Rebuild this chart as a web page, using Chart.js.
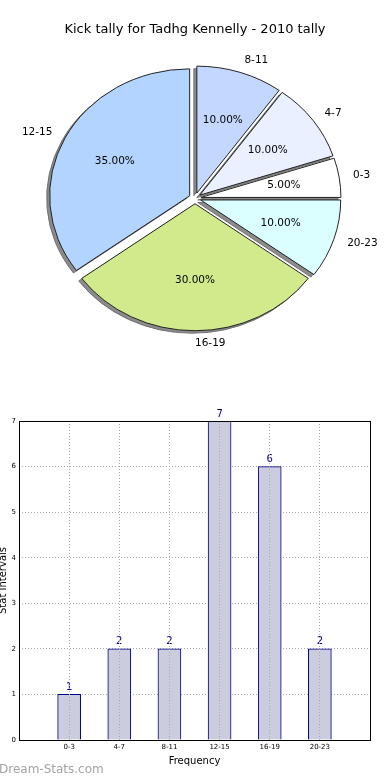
<!DOCTYPE html>
<html>
<head>
<meta charset="utf-8">
<script src="https://cdn.jsdelivr.net/npm/chart.js@4.4.1/dist/chart.umd.min.js"></script>
<style>
    body { margin: 0; background: #fff; width: 390px; height: 780px; overflow: hidden; position: relative; font-family: 'DejaVu Sans', sans-serif; }
    #pie { position: absolute; left: 0; top: 0; }
    #bar { position: absolute; left: 0; top: 395px; }
    #mark { position: absolute; left: -1px; top: 762px; font-size: 12px; color: #a3a3a3; }
</style>
</head>
<body>
<canvas id="pie" width="390" height="370"></canvas>
<canvas id="bar" width="390" height="385"></canvas>
<div id="mark">Dream-Stats.com</div>
<script>
// data
const categories = ['0-3', '4-7', '8-11', '12-15', '16-19', '20-23'];
const counts = [1, 2, 2, 7, 6, 2];
const sliceColors = ['#ffffff', '#eaf0ff', '#c4d8ff', '#b3d4ff', '#d0ea8c', '#dbffff'];
const yTicks = [0, 1, 2, 3, 4, 5, 6, 7];

Chart.defaults.font.family = "'DejaVu Sans', sans-serif";
Chart.defaults.color = '#000';

// pie goes clockwise in chart.js, matplotlib went counter-clockwise from 3 o'clock
const pieLabels = categories.slice().reverse();
const pieValues = counts.slice().reverse();
const pieColors = sliceColors.slice().reverse();
const total = counts.reduce((a, b) => a + b, 0);

const explode = 6;      // px
const squash = 0.907;   // axes were not square, so the pie is an ellipse

const pieDraw = {
    id: 'pieDraw',
    beforeDatasetsDraw(chart) {
        const ctx = chart.ctx;
        const arcs = chart.getDatasetMeta(0).data;
        const pass = (shadow) => arcs.forEach((arc) => {
            const mid = (arc.startAngle + arc.endAngle) / 2;
            ctx.save();
            if (shadow) ctx.translate(-3, 2.5);
            ctx.translate(arc.x, arc.y);
            ctx.scale(1, squash);
            ctx.translate(Math.cos(mid) * explode, Math.sin(mid) * explode);
            ctx.translate(-arc.x, -arc.y);
            if (shadow) {
                const o = arc.options;
                const bg = o.backgroundColor, bc = o.borderColor;
                o.backgroundColor = '#8c8c8c';
                o.borderColor = '#6e6e6e';
                arc.draw(ctx);
                o.backgroundColor = bg;
                o.borderColor = bc;
            } else {
                arc.draw(ctx);
            }
            ctx.restore();
        });
        pass(true);
        pass(false);

        ctx.save();
        ctx.font = "10.5px 'DejaVu Sans'";
        ctx.fillStyle = '#000';
        ctx.textBaseline = 'middle';
        arcs.forEach((arc, i) => {
            const mid = (arc.startAngle + arc.endAngle) / 2;
            const r = arc.outerRadius;
            const c = Math.cos(mid), s = Math.sin(mid);
            ctx.textAlign = c > 0 ? 'left' : 'right';
            ctx.fillText(pieLabels[i], arc.x + (explode + 1.1 * r) * c, arc.y + (explode + 1.1 * r) * s * squash);
            ctx.textAlign = 'center';
            ctx.fillText((pieValues[i] / total * 100).toFixed(2) + '%', arc.x + (explode + 0.6 * r) * c, arc.y + (explode + 0.6 * r) * s * squash);
        });
        ctx.restore();
        return false;
    }
};

new Chart(document.getElementById('pie'), {
    type: 'pie',
    data: {
        labels: pieLabels,
        datasets: [{
            data: pieValues,
            backgroundColor: pieColors,
            borderColor: '#1a1a1a',
            borderWidth: 1,
            radius: 140
        }]
    },
    options: {
        responsive: false,
        animation: false,
        rotation: 90,
        layout: { padding: { bottom: 11 } },
        plugins: {
            legend: { display: false },
            tooltip: { enabled: false },
            title: {
                display: true,
                text: 'Kick tally for Tadhg Kennelly - 2010 tally',
                color: '#000',
                font: { size: 13, weight: 'normal' },
                padding: { top: 22, bottom: 0 }
            }
        }
    },
    plugins: [pieDraw]
});

// bar chart: empty slots at both ends so the bars sit at 1..6 on a 0..7 axis
const barLabels = [''].concat(categories, ['']);
const barValues = [null].concat(counts, [null]);

const barValuesPlugin = {
    id: 'barValues',
    afterDatasetsDraw(chart) {
        const ctx = chart.ctx;
        const bars = chart.getDatasetMeta(0).data;
        ctx.save();
        ctx.font = "10px 'DejaVu Sans'";
        ctx.fillStyle = '#00008b';
        ctx.textAlign = 'center';
        ctx.textBaseline = 'bottom';
        bars.forEach((bar, i) => {
            if (barValues[i] == null) return;
            ctx.fillText(String(barValues[i]), bar.x, bar.y - 2);
        });
        ctx.restore();
    },
    afterDraw(chart) {
        const a = chart.chartArea, ctx = chart.ctx;
        ctx.save();
        ctx.strokeStyle = '#000';
        ctx.lineWidth = 1;
        ctx.strokeRect(Math.round(a.left) + 0.5, Math.round(a.top) + 0.5, Math.round(a.right - a.left), Math.round(a.bottom - a.top));
        ctx.restore();
    }
};

new Chart(document.getElementById('bar'), {
    type: 'bar',
    data: {
        labels: barLabels,
        datasets: [{
            data: barValues,
            backgroundColor: '#ccccdf',
            borderColor: '#000080',
            borderWidth: 1,
            barThickness: 23
        }]
    },
    options: {
        responsive: false,
        animation: false,
        layout: { padding: { top: 26, right: 20, left: 0, bottom: 0 } },
        plugins: { legend: { display: false }, tooltip: { enabled: false } },
        scales: {
            x: {
                type: 'category',
                offset: false,
                grid: { color: '#aaaaaa', drawTicks: false, offset: false, z: 1 },
                border: { display: false, dash: [1, 2] },
                ticks: { font: { size: 7 }, padding: 3, maxRotation: 0, autoSkip: false },
                title: { display: true, text: 'Frequency', font: { size: 10 }, padding: { top: 0, bottom: 12.4 } },
                afterFit(s) { s.height = 40; }
            },
            y: {
                min: yTicks[0],
                max: yTicks[yTicks.length - 1],
                afterBuildTicks(s) { s.ticks = yTicks.map(v => ({ value: v })); },
                grid: { color: '#aaaaaa', drawTicks: false },
                border: { display: false, dash: [1, 2] },
                ticks: { font: { size: 7 }, padding: 3 },
                title: { display: true, text: 'Stat Intervals', font: { size: 10 }, padding: { top: -2.5, bottom: 0 } },
                afterFit(s) { s.width = 19; }
            }
        }
    },
    plugins: [barValuesPlugin]
});
</script>
</body>
</html>
